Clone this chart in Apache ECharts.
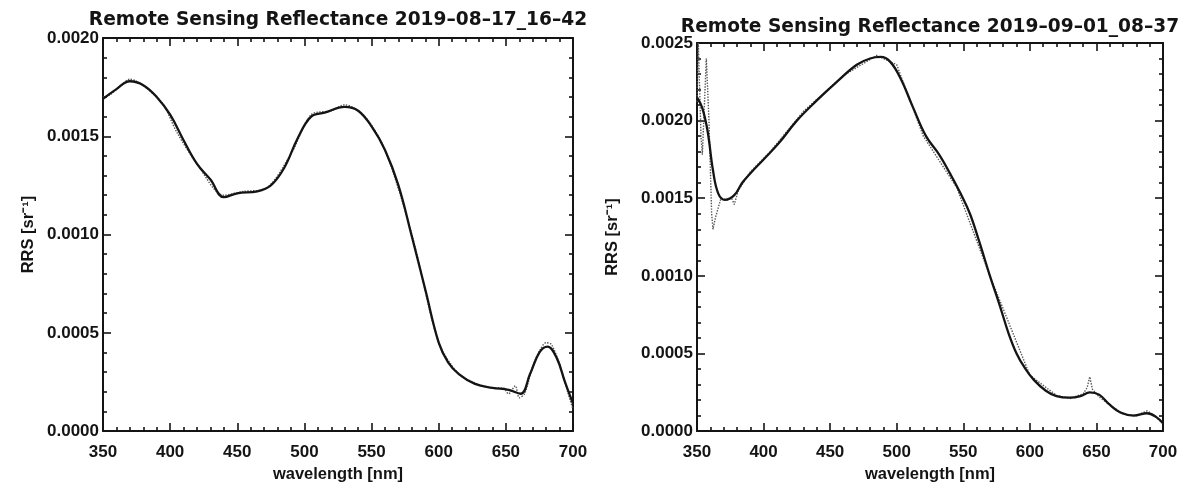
<!DOCTYPE html>
<html>
<head>
<meta charset="utf-8">
<script src="https://cdn.jsdelivr.net/npm/echarts@6/dist/echarts.min.js"></script>
<style>
html,body{margin:0;padding:0;background:#fff;}
#c{width:1187px;height:488px;}
</style>
</head>
<body>
<div id="c"></div>
<script>
// ---------- data ----------
var titles = ['Remote Sensing Reflectance 2019\u201308\u201317_16\u201342', 'Remote Sensing Reflectance 2019\u201309\u201301_08\u201337'];
var xTicks = [350, 400, 450, 500, 550, 600, 650, 700];
var yTicksLeft = ['0.0000', '0.0005', '0.0010', '0.0015', '0.0020'];
var yTicksRight = ['0.0000', '0.0005', '0.0010', '0.0015', '0.0020', '0.0025'];

// left panel: wavelength (nm) and smoothed Rrs
var wlLeft = [350, 360, 370, 380, 390, 400, 410, 420, 430, 440, 450, 465, 475, 485, 495, 505, 515, 530, 540, 550, 560, 570, 580, 590, 600, 607, 615, 627, 640, 652, 661, 668, 675, 681, 688, 694, 700];
var rrsLeft = [0.00169, 0.00174, 0.00178, 0.00176, 0.00170, 0.00161, 0.00148, 0.00136, 0.00128, 0.00119, 0.00121, 0.00122, 0.00125, 0.00134, 0.00149, 0.00160, 0.00162, 0.00165, 0.00163, 0.00155, 0.00143, 0.00125, 0.00099, 0.00072, 0.00045, 0.00035, 0.00029, 0.00024, 0.00022, 0.00021, 0.00019, 0.00029, 0.00040, 0.00043, 0.00037, 0.00025, 0.00014];
// left panel: raw (measured) Rrs, dotted
var wlLeftRaw = [350, 355, 362, 370, 375, 385, 395, 405, 420, 440, 455, 470, 490, 505, 520, 530, 545, 560, 580, 600, 615, 627, 640, 648, 652, 657, 660, 664, 670, 676, 680, 684, 690, 696, 700];
var rrsLeftRaw = [0.00170, 0.00171, 0.00175, 0.00179, 0.00178, 0.00173, 0.00166, 0.00152, 0.00136, 0.00120, 0.00122, 0.00123, 0.00141, 0.00161, 0.00163, 0.00166, 0.00160, 0.00143, 0.00100, 0.00045, 0.00029, 0.000245, 0.00022, 0.00022, 0.00019, 0.00023, 0.00017, 0.00019, 0.00033, 0.00042, 0.00045, 0.00044, 0.00034, 0.00020, 0.00011];

// right panel: smoothed Rrs
var wlRight = [350, 354, 358, 362, 366, 371, 378, 384, 390, 400, 412, 425, 440, 455, 470, 480, 488, 495, 503, 512, 522, 532, 540, 548, 555, 562, 570, 577, 584, 590, 596, 603, 612, 620, 630, 638, 645, 652, 660, 668, 678, 688, 695, 700];
var rrsRight = [0.00215, 0.00208, 0.00193, 0.00168, 0.00153, 0.00149, 0.00152, 0.00160, 0.00166, 0.00175, 0.00186, 0.00200, 0.00213, 0.00225, 0.00236, 0.00240, 0.00241, 0.00238, 0.00227, 0.00209, 0.00190, 0.00178, 0.00166, 0.00153, 0.00140, 0.00122, 0.00100, 0.00082, 0.00063, 0.00050, 0.00041, 0.00033, 0.00026, 0.000225, 0.000215, 0.000225, 0.000250, 0.000235, 0.000170, 0.000120, 0.000100, 0.000115, 0.000090, 0.000050];
// right panel: raw (measured) Rrs, dotted
var wlRightRaw = [350, 351, 353, 354, 357, 359, 361, 362, 364, 368, 372, 376, 378, 381, 390, 405, 430, 460, 485, 500, 520, 545, 570, 600, 620, 630, 640, 643, 645, 647, 652, 660, 670, 680, 688, 692, 700];
var rrsRightRaw = [0.00212, 0.00250, 0.00190, 0.00178, 0.00240, 0.00200, 0.00140, 0.00130, 0.00138, 0.00150, 0.00149, 0.00150, 0.00146, 0.00155, 0.00167, 0.00180, 0.00206, 0.00229, 0.00242, 0.00236, 0.00190, 0.00157, 0.00100, 0.00036, 0.00023, 0.00021, 0.00024, 0.00028, 0.00035, 0.00027, 0.00022, 0.00017, 0.00011, 0.00010, 0.00013, 0.00011, 0.00005];

// ---------- helpers ----------
function pairs(xs, ys) { return xs.map(function (x, i) { return [x, ys[i]]; }); }
var LABEL_FONT = 'Liberation Sans';
var TITLE_FONT = 'DejaVu Sans';
var INK = '#141414';

function xAxes(gridIndex) {
  var base = {
    gridIndex: gridIndex, type: 'value', min: xTicks[0], max: xTicks[xTicks.length - 1], interval: 50,
    axisLine: { show: true, onZero: false, lineStyle: { color: INK, width: 2 } },
    axisTick: { show: true, inside: true, length: 8, lineStyle: { color: INK, width: 1.6 } },
    minorTick: { show: true, splitNumber: 5, length: 4, lineStyle: { color: INK, width: 1.6 } },
    splitLine: { show: false }, minorSplitLine: { show: false }
  };
  var bottom = Object.assign({}, base, {
    position: 'bottom',
    name: 'wavelength [nm]', nameLocation: 'middle', nameGap: 28,
    nameTextStyle: { fontFamily: LABEL_FONT, fontWeight: 'bold', fontSize: 16.5, color: INK },
    axisLabel: { show: true, margin: 13, fontFamily: LABEL_FONT, fontWeight: 'bold', fontSize: 17, color: INK,
      formatter: function (v) { return xTicks.indexOf(v) >= 0 ? String(v) : ''; } }
  });
  var top = Object.assign({}, base, { position: 'top', axisLabel: { show: false } });
  return [bottom, top];
}
function yAxes(gridIndex, max, labels, nameGap) {
  var base = {
    gridIndex: gridIndex, type: 'value', min: 0, max: max, interval: 0.0005,
    axisLine: { show: true, onZero: false, lineStyle: { color: INK, width: 2 } },
    axisTick: { show: true, inside: true, length: 8, lineStyle: { color: INK, width: 1.6 } },
    minorTick: { show: true, splitNumber: 5, length: 4, lineStyle: { color: INK, width: 1.6 } },
    splitLine: { show: false }, minorSplitLine: { show: false }
  };
  var left = Object.assign({}, base, {
    position: 'left',
    name: 'RRS [sr\u207B\u00B9]', nameLocation: 'middle', nameGap: nameGap, nameRotate: 90,
    nameTextStyle: { fontFamily: LABEL_FONT, fontWeight: 'bold', fontSize: 16.5, color: INK },
    axisLabel: { show: true, margin: 4, fontFamily: LABEL_FONT, fontWeight: 'bold', fontSize: 17, color: INK,
      padding: [6, 0, 0, 0],
      formatter: function (v) {
        var s = v.toFixed(4);
        return labels.indexOf(s) >= 0 ? s : '';
      } }
  });
  var right = Object.assign({}, base, { position: 'right', axisLabel: { show: false } });
  return [left, right];
}

var xa = xAxes(0).concat(xAxes(1));
var ya = yAxes(0, 0.0020, yTicksLeft, 66).concat(yAxes(1, 0.0025, yTicksRight, 76));

var option = {
  backgroundColor: '#ffffff',
  animation: false,
  title: [
    { text: titles[0], left: 338, top: 11, textAlign: 'center', padding: 0,
      textStyle: { fontFamily: TITLE_FONT, fontSize: 18.6, fontWeight: 'bold', color: INK } },
    { text: titles[1], left: 930, top: 18, textAlign: 'center', padding: 0,
      textStyle: { fontFamily: TITLE_FONT, fontSize: 18.6, fontWeight: 'bold', color: INK } }
  ],
  grid: [
    { left: 103, top: 38, width: 470, height: 403, containLabel: false },
    { left: 697, top: 43, width: 466, height: 398, containLabel: false }
  ],
  xAxis: xa,
  yAxis: ya,
  series: [
    { type: 'line', xAxisIndex: 0, yAxisIndex: 0, data: pairs(wlLeftRaw, rrsLeftRaw), showSymbol: false,
      smooth: 0.3, lineStyle: { type: 'dotted', width: 1.4, color: '#555' }, z: 2 },
    { type: 'line', xAxisIndex: 0, yAxisIndex: 0, data: pairs(wlLeft, rrsLeft), showSymbol: false,
      smooth: 0.4, lineStyle: { width: 2.3, color: INK }, z: 3 },
    { type: 'line', xAxisIndex: 2, yAxisIndex: 2, data: pairs(wlRightRaw, rrsRightRaw), showSymbol: false,
      smooth: 0, lineStyle: { type: 'dotted', width: 1.4, color: '#555' }, z: 2 },
    { type: 'line', xAxisIndex: 2, yAxisIndex: 2, data: pairs(wlRight, rrsRight), showSymbol: false,
      smooth: 0.4, lineStyle: { width: 2.3, color: INK }, z: 3 }
  ]
};
var chart = echarts.init(document.getElementById('c'), null, { renderer: 'canvas' });
chart.setOption(option);
</script>
</body>
</html>
